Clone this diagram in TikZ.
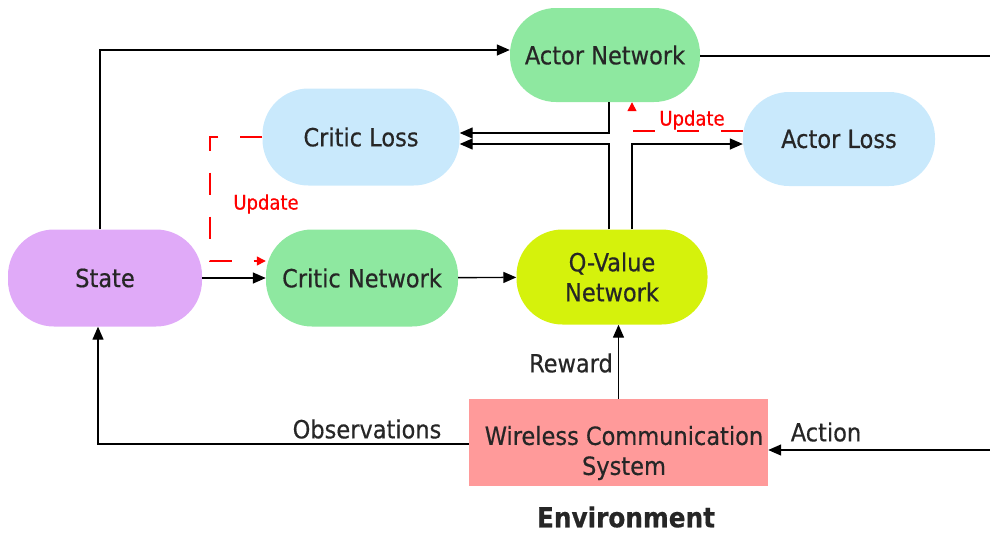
\documentclass[tikz,border=0pt]{standalone}
\usepackage{fontspec}
\setmainfont[FakeBold=0.5]{DejaVu Sans Condensed}
\usetikzlibrary{arrows.meta,calc}
\definecolor{netgreen}{HTML}{8EE8A0}
\definecolor{lossblue}{HTML}{C9E9FC}
\definecolor{statepurple}{HTML}{E0AAF8}
\definecolor{qlime}{HTML}{D5F20C}
\definecolor{envred}{HTML}{FF9A9A}
\definecolor{txt}{HTML}{262626}
\begin{document}
\begin{tikzpicture}[x=1pt,y=-1pt,
  pill/.style={rounded corners=46pt, inner sep=0pt, align=center,
    font=\fontsize{25}{30}\selectfont, text=txt},
  arr/.style={draw=black, line width=1.4pt, -{Triangle[length=13pt,width=11pt]}},
  upd/.style={draw=red, line width=1.4pt, dash pattern=on 22pt off 22pt,
    -{Triangle[length=9pt,width=9pt]}},
  lbl/.style={font=\fontsize{25}{30}\selectfont, text=txt},
  updlbl/.style={font=\fontsize{20}{24}\selectfont, text=red}]
\useasboundingbox (0,0) rectangle (990,539);

% blocks
\node[pill, fill=netgreen, minimum width=190pt, minimum height=94pt] (actor) at (605,55) {Actor Network};
\node[pill, fill=lossblue, minimum width=197pt, minimum height=97pt] (critloss) at (361,137) {Critic Loss};
\node[pill, fill=lossblue, minimum width=192pt, minimum height=94pt] (actloss) at (839,139) {Actor Loss};
\node[pill, fill=statepurple, minimum width=194pt, minimum height=97pt] (state) at (105,278) {State};
\node[pill, fill=netgreen, minimum width=192pt, minimum height=97pt] (critic) at (362,278) {Critic Network};
\node[pill, fill=qlime, minimum width=191pt, minimum height=95pt] (qnet) at (612,277) {Q-Value\\Network};
\node[fill=envred, minimum width=299pt, minimum height=87pt, inner sep=0pt] (env) at (618.5,442.5) {};
\node[align=center, font=\fontsize{25}{30}\selectfont, text=txt] (envtxt) at (624,453) {Wireless Communication\\System};

% helper coordinates for the elbows
\coordinate (qa) at (609,0);
\coordinate (qb) at (632,0);
\coordinate (h1) at (0,133);
\coordinate (h2) at (0,144);
\coordinate (h3) at (0,131);
\coordinate (h4) at (0,261);
\coordinate (ho) at (0,444);
\coordinate (cx) at (210,0);
\coordinate (rtop) at (990,56);
\coordinate (rbot) at (990,450);

% main flow
\draw[arr] (state) -- (critic);
\draw[arr] (critic) -- (qnet);
\draw[arr] ($(state.north)+(-5,0)$) |- ($(actor.west)+(0,-5)$);
\draw[line width=1.4pt] (actor.east |- rtop) -- (rtop);
\draw[arr] (rbot) -- (rbot -| env.east);
\draw[arr] (env.west |- ho) -| ($(state.south)+(-7,0)$);
\draw[arr] (env.north) -- (env.north |- qnet.south);

% losses
\draw[arr] (qa |- actor.south) |- (critloss.east |- h1);
\draw[arr] (qa |- qnet.north) |- (critloss.east |- h2);
\draw[arr] (qb |- qnet.north) |- (actloss.west |- h2);

% update paths
\draw[upd] (actloss.west |- h3) -| (qb |- actor.south);
\draw[upd] (critloss.west) -| (cx |- h4) -- (critic.west |- h4);

% labels
\node[updlbl] (u1) at (266,204) {Update};
\node[updlbl] (u2) at (692,120) {Update};
\node[lbl] (obs) at (367,429) {Observations};
\node[lbl] (rew) at (571,363) {Reward};
\node[lbl] (act) at (826,432) {Action};
\node[font=\fontsize{27.5}{32}\selectfont\bfseries, text=txt] (envlbl) at (626,517) {Environment};
\end{tikzpicture}
\end{document}
